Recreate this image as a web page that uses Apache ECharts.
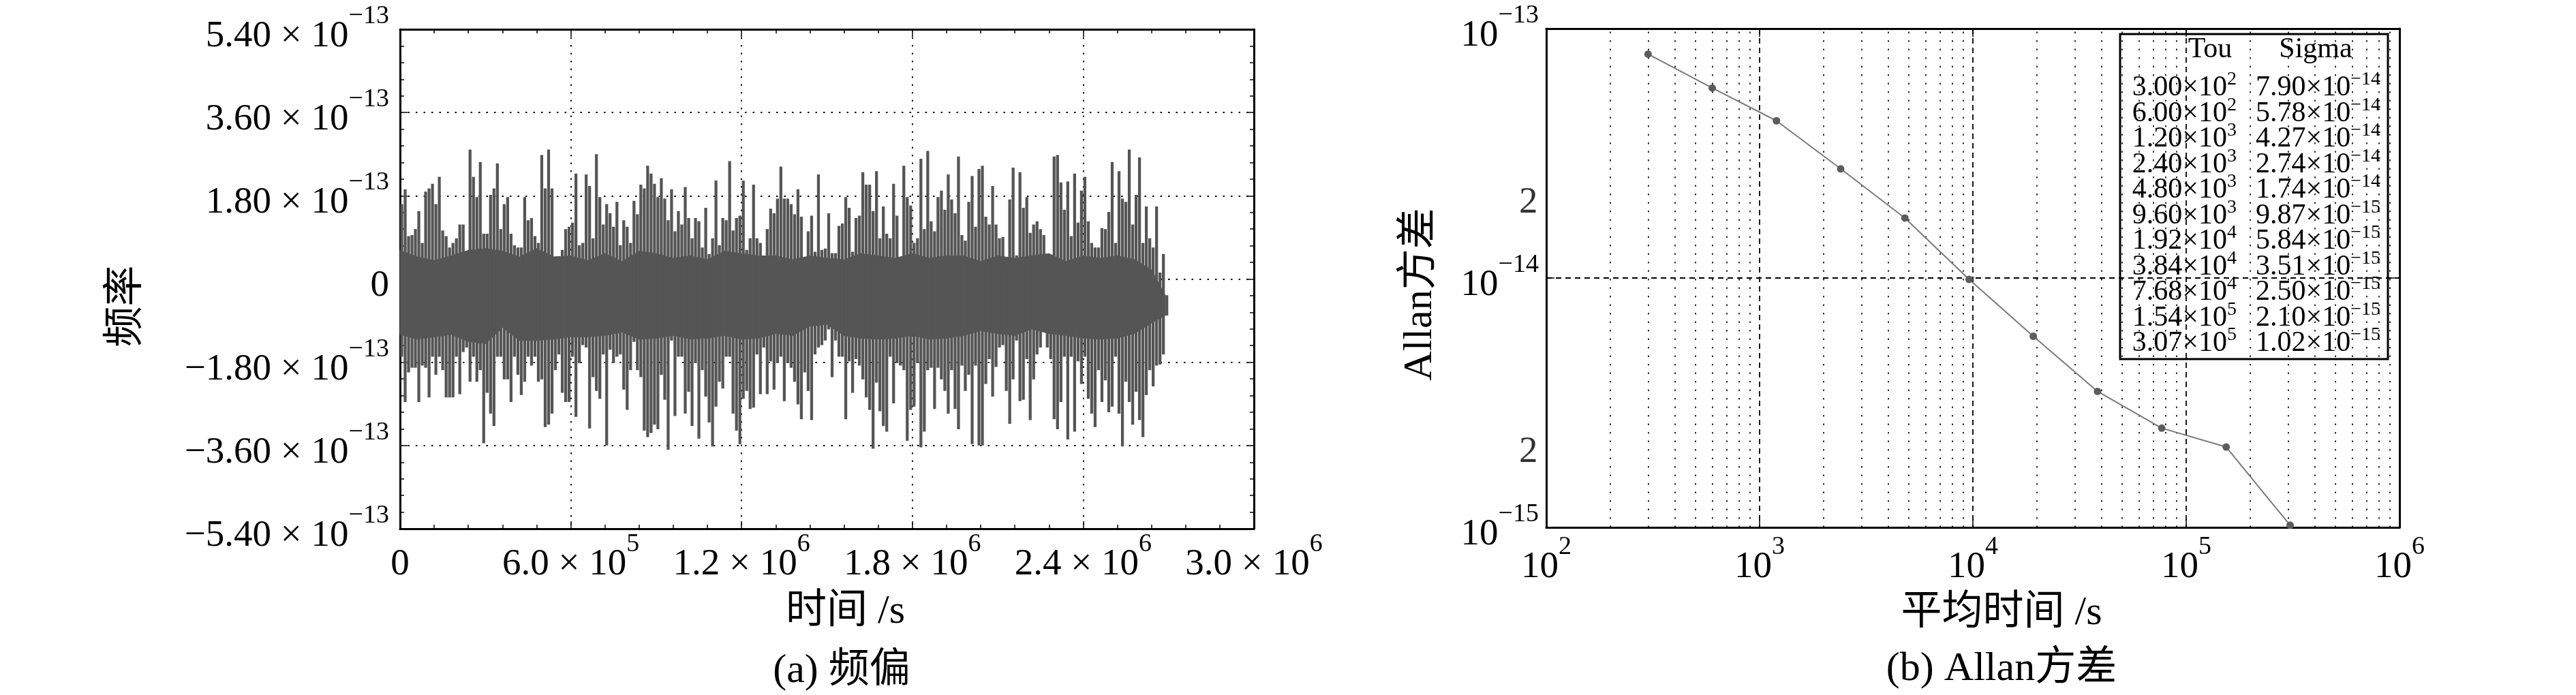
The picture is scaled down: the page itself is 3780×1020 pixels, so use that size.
<!DOCTYPE html>
<html><head><meta charset="utf-8">
<script src="https://cdn.jsdelivr.net/npm/echarts@6/dist/echarts.min.js"></script>
<style>html,body{margin:0;padding:0;background:#fff}#c{width:3780px;height:1020px}</style>
</head><body><div id="c"></div>
<script>
// ---------------- DATA ----------------
// (a) frequency offset: per-bin extreme values (units of 1e-13), bins of 12000 s
const FREQ_UNIT = 1e-13;
const BIN_STEP = 12000;
const freqHi = [
1.62,1.94,0.93,0.95,1.08,1.47,0.78,1.89,1.96,2.06,1.62,2.21,1.05,0.93,0.68,0.78,0.88,1.18,1.18,0.59,
2.80,2.21,1.77,2.53,0.98,0.98,1.82,1.96,2.50,1.08,1.62,1.77,0.98,0.73,0.68,0.68,1.77,1.27,1.32,0.93,
0.78,2.68,1.96,2.80,1.96,0.44,0.29,0.63,1.08,1.13,1.22,2.28,0.73,0.78,2.26,2.01,0.88,2.70,1.77,1.18,
1.62,1.42,1.13,1.67,0.73,1.27,1.13,0.78,1.69,1.40,2.04,1.96,2.45,2.28,2.06,1.77,2.18,1.74,1.27,1.94,
1.03,1.47,1.18,1.99,1.32,0.88,1.32,1.25,0.68,1.54,0.54,0.88,2.13,0.73,1.32,1.27,2.55,1.05,1.32,1.37,
2.13,0.63,0.88,2.04,0.88,0.78,0.49,1.08,1.52,1.42,1.74,2.43,1.74,1.74,1.62,1.40,1.94,1.35,0.31,1.03,
1.37,0.59,2.26,0.63,0.66,1.42,0.56,0.56,1.15,1.20,1.77,1.54,0.59,1.32,1.37,2.31,2.04,2.04,1.47,2.33,
0.88,1.57,0.98,0.88,2.06,1.37,0.29,2.45,1.77,1.59,0.78,0.88,2.60,1.08,2.77,1.25,1.03,1.77,1.91,1.50,
2.26,1.72,1.42,2.65,0.95,0.83,1.67,2.23,1.13,2.38,2.45,1.35,1.18,2.01,1.18,0.88,0.91,0.29,1.72,2.41,
0.51,2.31,1.54,1.77,1.00,1.18,1.25,1.08,0.95,0.51,0.49,2.65,2.68,2.09,1.50,2.11,0.93,2.28,1.22,1.91,
2.21,1.25,0.78,0.68,0.68,1.10,1.08,1.45,2.53,0.78,2.33,1.74,1.67,2.80,1.18,1.82,2.63,0.78,1.57,0.88,
0.68,1.57,0.14,0.54,-0.35];
const freqLo = [
-1.68,-2.66,-2.02,-1.92,-1.92,-2.66,-1.87,-1.92,-2.56,-1.68,-2.07,-1.68,-1.97,-2.56,-2.56,-2.56,-1.68,-2.49,-1.58,-1.48,
-2.22,-1.68,-2.22,-1.97,-3.55,-2.46,-2.91,-3.18,-1.68,-1.68,-2.17,-2.17,-2.66,-1.68,-2.07,-2.51,-2.22,-1.68,-1.87,-1.68,
-2.22,-2.17,-3.20,-3.15,-2.91,-1.97,-1.63,-2.46,-2.66,-2.66,-1.68,-2.98,-1.82,-1.43,-1.48,-3.23,-2.12,-2.42,-2.59,-1.63,
-3.60,-1.53,-1.82,-1.68,-1.63,-2.39,-2.83,-1.97,-1.36,-1.97,-2.12,-3.28,-3.42,-3.33,-3.15,-3.25,-2.07,-2.61,-3.69,-1.33,
-2.96,-1.68,-1.68,-2.91,-2.44,-3.18,-1.82,-3.45,-1.97,-2.54,-3.10,-3.62,-2.76,-2.22,-2.37,-1.68,-1.68,-2.91,-3.28,-3.57,
-2.59,-2.42,-2.81,-2.78,-1.63,-2.49,-1.48,-2.49,-1.78,-2.39,-1.82,-1.68,-2.64,-1.82,-1.92,-2.22,-2.71,-3.03,-2.02,-2.42,
-3.05,-1.63,-1.48,-1.43,-1.33,-1.09,-2.12,-1.33,-1.68,-1.68,-3.03,-1.78,-2.46,-1.73,-1.87,-2.17,-2.56,-2.83,-3.67,-2.24,
-2.86,-3.18,-3.30,-1.68,-2.69,-1.82,-1.87,-1.97,-3.50,-2.83,-2.76,-1.82,-3.64,-3.30,-1.97,-1.92,-2.81,-1.92,-2.17,-2.42,
-2.91,-1.97,-2.81,-3.25,-1.87,-2.42,-2.07,-3.57,-1.87,-3.60,-3.60,-2.27,-1.73,-2.54,-1.90,-1.48,-1.43,-2.42,-3.13,-2.17,
-1.33,-2.64,-2.61,-1.73,-3.05,-2.17,-1.63,-1.48,-1.14,-1.48,-1.73,-3.03,-3.25,-2.66,-1.68,-3.47,-1.68,-3.30,-1.78,-2.27,
-1.68,-2.59,-2.91,-3.20,-1.97,-2.66,-2.19,-2.88,-2.76,-1.68,-2.91,-3.62,-2.22,-2.66,-3.15,-2.44,-3.05,-3.42,-2.51,-1.97,
-2.32,-1.87,-1.85,-1.63,-0.79];
// dense core band of the record (units of 1e-13), every 60000 s
const CORE_STEP = 60000;
const DATA_END = 2.688e6;
const coreHi = [0.62,0.48,0.40,0.50,0.62,0.66,0.60,0.48,0.66,0.48,0.50,0.40,0.55,0.38,0.60,0.55,0.45,0.50,0.42,0.60,
0.55,0.50,0.50,0.42,0.50,0.45,0.42,0.55,0.50,0.45,0.55,0.45,0.50,0.50,0.38,0.50,0.45,0.50,0.55,0.38,
0.50,0.45,0.50,0.42,0.20,-0.35];
const coreLo = [-1.20,-1.30,-1.25,-1.20,-1.35,-1.40,-1.05,-1.33,-1.33,-1.30,-1.25,-1.25,-1.22,-1.15,-1.30,-1.28,-1.22,-1.30,-1.28,-1.22,
-1.30,-1.28,-1.18,-1.22,-1.02,-0.98,-1.22,-1.28,-1.30,-1.28,-1.22,-1.30,-1.28,-1.22,-1.12,-1.18,-1.22,-1.08,-1.18,-1.22,
-1.28,-1.30,-1.28,-1.18,-0.95,-0.79];
// (b) Allan deviation table
const allanTau = [300, 600, 1200, 2400, 4800, 9600, 19200, 38400, 76800, 154000, 307000];
const allanSigma = [7.90e-14, 5.78e-14, 4.27e-14, 2.74e-14, 1.74e-14, 9.87e-15, 5.84e-15, 3.51e-15, 2.50e-15, 2.10e-15, 1.02e-15];
// axis settings
const freqYRange = [-5.4e-13, 5.4e-13], freqYStep = 1.8e-13;
const freqXRange = [0, 3.0e6], freqXStep = 6.0e5;
const allanXRange = [1e2, 1e6], allanYRange = [1e-15, 1e-13];
const minorMultipliers = [2, 3, 4, 5, 6, 7, 8, 9];
const xDecades = [1e2, 1e3, 1e4, 1e5];
const yDecades = [1e-15, 1e-14];
const labelledMinor = [2];

// ---------------- STYLE ----------------
const FONT = '"Liberation Serif","Times New Roman","Noto Sans CJK SC",serif';
const INK = '#000';
const richLbl = {
  b: {fontSize: 55, lineHeight: 76, fontFamily: FONT, color: INK, verticalAlign: 'bottom'},
  s: {fontSize: 38, lineHeight: 38, padding: [0, 0, 38, 0], fontFamily: FONT, color: INK, verticalAlign: 'bottom'}
};
const richTbl = {
  b: {fontSize: 42, lineHeight: 50, fontFamily: FONT, fill: INK, verticalAlign: 'bottom'},
  s: {fontSize: 28, lineHeight: 28, padding: [0, 0, 19, 0], fontFamily: FONT, fill: INK, verticalAlign: 'bottom'}
};
function sci(v, digits, sep) {
  const e = Math.floor(Math.log10(Math.abs(v)) + 1e-9);
  const m = Math.abs(v) / Math.pow(10, e);
  const es = e < 0 ? '\u2212' + (-e) : String(e);
  return '{b|' + (v < 0 ? '\u2212' : '') + m.toFixed(digits) + sep + '×' + sep + '10}{s|' + es + '}';
}
function pow10(v) {
  const e = Math.round(Math.log10(v));
  return '{b|10}{s|' + (e < 0 ? '\u2212' + (-e) : e) + '}';
}

const chart = echarts.init(document.getElementById('c'), null, {renderer: 'canvas'});

const valueAxisCommon = {
  axisLine: {show: true, onZero: false, lineStyle: {color: INK, width: 3}},
  axisTick: {show: true, inside: true, length: 11, lineStyle: {color: INK, width: 1.5}},
  minorTick: {show: true, splitNumber: 5, length: 6, lineStyle: {color: INK, width: 1.5}},
  splitLine: {show: true, lineStyle: {color: INK, width: 1.8, type: [2.5, 9]}},
  minorSplitLine: {show: false}
};
const logAxisCommon = {
  type: 'log', logBase: 10,
  axisLine: {show: true, onZero: false, lineStyle: {color: INK, width: 3}},
  axisTick: {show: true, inside: true, length: 12, lineStyle: {color: INK, width: 1.5}},
  splitLine: {show: true, lineStyle: {color: INK, width: 1.8, type: [8, 6]}}
};

const minorLines = [];
xDecades.forEach(d => minorMultipliers.forEach(m => minorLines.push({xAxis: m * d})));
yDecades.forEach(d => minorMultipliers.forEach(m => minorLines.push({yAxis: m * d})));
// labelled minor ticks on the log y axis ("2")
const minorLabelPts = [];
yDecades.forEach(d => labelledMinor.forEach(m => minorLabelPts.push([allanXRange[0], m * d, String(m)])));

const option = {
  animation: false,
  backgroundColor: '#fff',
  grid: [
    {left: 587, top: 43, width: 1253, height: 733},
    {left: 2269, top: 42, width: 1252, height: 732}
  ],
  xAxis: [
    Object.assign({}, valueAxisCommon, {
      type: 'value', gridIndex: 0, position: 'bottom', min: freqXRange[0], max: freqXRange[1], interval: freqXStep,
      axisLabel: {margin: 4, formatter: v => v === 0 ? '{b|0}' : sci(v, 1, ' '), rich: richLbl},
      name: '时间 /s', nameLocation: 'middle', nameGap: 92,
      nameTextStyle: {fontSize: 60, fontFamily: FONT, color: INK, padding: [0, 0, 0, 54]}
    }),
    Object.assign({}, valueAxisCommon, {
      type: 'value', gridIndex: 0, position: 'top', min: freqXRange[0], max: freqXRange[1], interval: freqXStep,
      axisLabel: {show: false}, splitLine: {show: false}
    }),
    Object.assign({}, logAxisCommon, {
      gridIndex: 1, position: 'bottom', min: allanXRange[0], max: allanXRange[1],
      axisLabel: {margin: 10, formatter: pow10, rich: richLbl},
      name: '平均时间 /s', nameLocation: 'middle', nameGap: 96,
      nameTextStyle: {fontSize: 60, fontFamily: FONT, color: INK, padding: [0, 0, 0, 84]}
    }),
    Object.assign({}, logAxisCommon, {
      gridIndex: 1, position: 'top', min: allanXRange[0], max: allanXRange[1],
      axisLabel: {show: false}, splitLine: {show: false}
    })
  ],
  yAxis: [
    Object.assign({}, valueAxisCommon, {
      type: 'value', gridIndex: 0, position: 'left', min: freqYRange[0], max: freqYRange[1], interval: freqYStep,
      axisLabel: {margin: 16, formatter: v => Math.abs(v) < 1e-20 ? '{b|0}' : sci(v, 2, ' '), rich: richLbl},
      name: '频率', nameLocation: 'middle', nameGap: 371,
      nameTextStyle: {fontSize: 60, fontFamily: FONT, color: INK, padding: [0, 80, 0, 0]}
    }),
    Object.assign({}, valueAxisCommon, {
      type: 'value', gridIndex: 0, position: 'right', min: freqYRange[0], max: freqYRange[1], interval: freqYStep,
      axisLabel: {show: false}, splitLine: {show: false}
    }),
    Object.assign({}, logAxisCommon, {
      gridIndex: 1, position: 'left', min: allanYRange[0], max: allanYRange[1],
      axisLabel: {margin: 11, formatter: pow10, rich: richLbl},
      name: 'Allan方差', nameLocation: 'middle', nameGap: 155,
      nameTextStyle: {fontSize: 60, fontFamily: FONT, color: INK, padding: [0, 48, 0, 0]}
    }),
    Object.assign({}, logAxisCommon, {
      gridIndex: 1, position: 'right', min: allanYRange[0], max: allanYRange[1],
      axisLabel: {show: false}, splitLine: {show: false}
    })
  ],
  series: [
    {
      type: 'custom', name: 'core', xAxisIndex: 0, yAxisIndex: 0, silent: true, z: 3,
      data: coreHi.map((h, j) => [Math.min(j * CORE_STEP, DATA_END), h * FREQ_UNIT, coreLo[j] * FREQ_UNIT]),
      encode: {x: 0, y: [1, 2]},
      renderItem: (params, api) => {
        const j = params.dataIndexInside;
        if (j >= coreHi.length - 1) return null;
        const p = [
          api.coord([api.value(0, j), api.value(1, j)]),
          api.coord([api.value(0, j + 1), api.value(1, j + 1)]),
          api.coord([api.value(0, j + 1), api.value(2, j + 1)]),
          api.coord([api.value(0, j), api.value(2, j)])
        ];
        return {type: 'polygon', shape: {points: p},
          style: {fill: '#555555', stroke: '#555555', lineWidth: 1}};
      }
    },
    {
      type: 'custom', name: 'freq', xAxisIndex: 0, yAxisIndex: 0, silent: true, z: 4,
      data: freqHi.map((h, i) => [(i + 0.5) * BIN_STEP, h * FREQ_UNIT, freqLo[i] * FREQ_UNIT]),
      encode: {x: 0, y: [1, 2]},
      renderItem: (params, api) => {
        const a = api.coord([api.value(0), api.value(1)]);
        const b = api.coord([api.value(0), api.value(2)]);
        const w = api.size([BIN_STEP, 0])[0] * 0.85;
        return {type: 'rect', shape: {x: a[0] - w / 2, y: a[1], width: w, height: b[1] - a[1]},
          style: {fill: '#555555'}};
      }
    },
    {
      type: 'line', name: 'minorGrid', xAxisIndex: 2, yAxisIndex: 2, data: [], silent: true, z: 1,
      markLine: {
        silent: true, animation: false, symbol: ['none', 'none'],
        lineStyle: {color: INK, width: 1.6, type: [2.5, 10]},
        label: {show: false},
        emphasis: {disabled: true},
        data: minorLines
      }
    },
    {
      type: 'scatter', name: 'minorLabels', xAxisIndex: 2, yAxisIndex: 2, silent: true, clip: false, z: 6,
      data: minorLabelPts, symbol: 'circle', symbolSize: 1, itemStyle: {color: 'rgba(0,0,0,0)'},
      label: {show: true, position: 'left', distance: 12, formatter: p => p.value[2],
        fontSize: 55, fontFamily: FONT, color: INK}
    },
    {
      type: 'line', name: 'Allan', xAxisIndex: 2, yAxisIndex: 2, z: 5,
      data: allanTau.map((t, i) => [t, allanSigma[i]]),
      symbol: 'circle', symbolSize: 11, showSymbol: true,
      itemStyle: {color: '#5c5c5c'},
      lineStyle: {color: '#7a7a7a', width: 2}
    }
  ],
  graphic: []
};

// titles
option.graphic.push({type: 'text', x: 1235, y: 985, z: 10,
  style: {text: '(a) 频偏', fontSize: 60, fontFamily: FONT, fill: INK, align: 'center', verticalAlign: 'middle'}});
option.graphic.push({type: 'text', x: 2937, y: 982, z: 10,
  style: {text: '(b) Allan方差', fontSize: 60, fontFamily: FONT, fill: INK, align: 'center', verticalAlign: 'middle'}});

// value table
const tbl = {type: 'group', z: 50, children: [
  {type: 'rect', shape: {x: 3111, y: 50, width: 393, height: 477}, style: {fill: '#fff', stroke: INK, lineWidth: 3}},
  {type: 'text', x: 3243, y: 73, style: {text: 'Tou', fontSize: 42, fontFamily: FONT, fill: INK, align: 'center', verticalAlign: 'middle'}},
  {type: 'text', x: 3398, y: 73, style: {text: 'Sigma', fontSize: 42, fontFamily: FONT, fill: INK, align: 'center', verticalAlign: 'middle'}}
]};
allanTau.forEach((t, k) => {
  const y = 125 + 37.5 * k;
  tbl.children.push({type: 'text', x: 3282, y: y,
    style: {text: sci(t, 2, ''), rich: richTbl, align: 'right', verticalAlign: 'middle', fontFamily: FONT}});
  tbl.children.push({type: 'text', x: 3310, y: y,
    style: {text: sci(allanSigma[k], 2, ''), rich: richTbl, align: 'left', verticalAlign: 'middle', fontFamily: FONT}});
});
option.graphic.push(tbl);

chart.setOption(option);
</script>
</body></html>
